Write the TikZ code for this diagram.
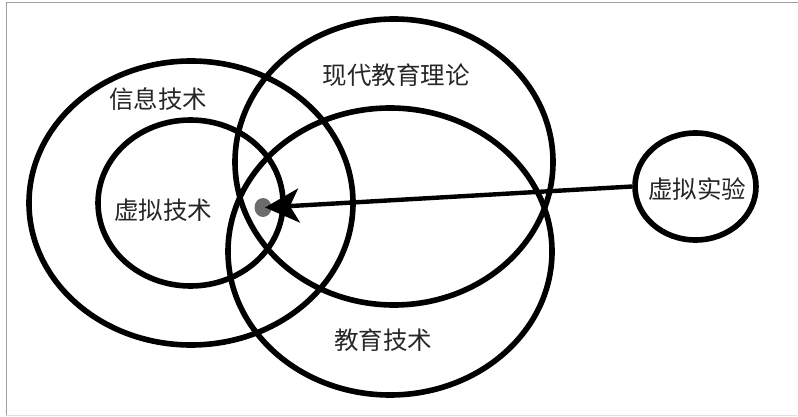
\documentclass[tikz,border=0pt]{standalone}
\usepackage{fontspec}
\newfontfamily\cjk{Noto Sans CJK SC}
\usetikzlibrary{shapes.geometric,arrows.meta}
\tikzset{
  ring/.style={draw=black, line width=5.6pt, ellipse, inner sep=0pt, fill=none},
  lbl/.style={font=\cjk\fontsize{24.5}{25}\selectfont, text=black!85, inner sep=0pt},
  link/.style={draw=black, line width=4.4pt, -{Stealth[length=34pt,width=34pt,inset=9pt]}},
}
\begin{document}
\begin{tikzpicture}[x=1pt,y=-1pt]
\useasboundingbox (0,0) rectangle (798,417);
\fill[white] (0,0) rectangle (798,417);
% frame
\draw[gray!75, line width=1pt] (6,415.5) -- (6,2.5) -- (798,2.5);
\draw[gray!25, line width=1pt] (6,415.5) -- (797,415.5);
% ellipses
\node[ring, minimum width=324pt, minimum height=284pt] (info) at (191,203) {};
\node[ring, minimum width=185pt, minimum height=166pt] (virt) at (190.5,203) {};
\node[ring, minimum width=318pt, minimum height=286pt] (theory) at (394,162) {};
\node[ring, minimum width=324pt, minimum height=287pt] (edu) at (390,251.5) {};
\node[ring, minimum width=121pt, minimum height=107pt] (exp) at (695.5,186.5) {};
% labels
\node[lbl] (tinfo) at (158,99) {信息技术};
\node[lbl] (tvirt) at (163,210) {虚拟技术};
\node[lbl] (ttheory) at (396,75) {现代教育理论};
\node[lbl] (tedu) at (383,340) {教育技术};
\node[lbl] (texp) at (697,189) {虚拟实验};
% dot and arrow
\node[fill=gray!85!black, ellipse, minimum width=17pt, minimum height=19pt, inner sep=0pt] (dot) at (263,207.5) {};
\coordinate (tip) at (265,207.5);
\draw[link] (exp.west) -- (tip);
\end{tikzpicture}
\end{document}
